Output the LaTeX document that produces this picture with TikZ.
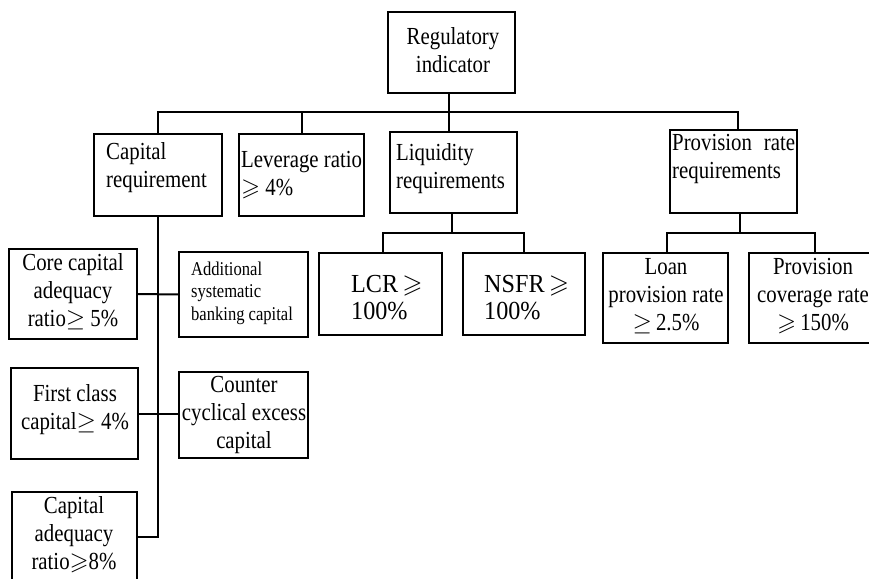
\documentclass[tikz,border=0pt]{standalone}
\usepackage{amssymb}
\usepackage{fontspec}
\setmainfont{Liberation Serif}
\newfontfamily\cond[FakeStretch=0.85]{Liberation Serif}
\newfontfamily\condb[FakeStretch=0.93]{Liberation Serif}
\usetikzlibrary{calc}
\tikzset{
  ln/.style={line width=2pt},
  bx/.style={draw, line width=2.2pt, inner sep=0pt, outer sep=0pt},
  txt/.style={inner sep=0pt, font={\cond\fontsize{24.5}{28}\selectfont}},
  txts/.style={inner sep=0pt, font={\cond\fontsize{19.5}{22.5}\selectfont}},
  txtb/.style={inner sep=0pt, font={\condb\fontsize{26}{27}\selectfont}},
}
\newcommand{\bxat}[5]{\node[bx, minimum width={(#4)-(#2)}, minimum height={(#5)-(#3)}] (#1) at ({((#2)+(#4))/2},{((#3)+(#5))/2}) {};}
\begin{document}
\begin{tikzpicture}[x=1pt,y=-1pt]
\useasboundingbox (0,0) rectangle (869,578);
\fill[white] (0,0) rectangle (869,578);
\clip (0,0) rectangle (869,578);
% boxes
\bxat{root}{388}{12}{515}{93}
\bxat{cap}{94}{134}{222}{216}
\bxat{lev}{239}{134}{364}{216}
\bxat{liq}{390}{132}{517}{213}
\bxat{prov}{670}{130}{797}{213}
\bxat{lcr}{319}{253}{442}{335}
\bxat{nsfr}{463}{253}{585}{335}
\bxat{loan}{603}{253}{728}{343}
\bxat{pcov}{749}{253}{880}{343}
\bxat{core}{9}{249}{137}{339}
\bxat{add}{179}{252}{308}{337}
\bxat{first}{11}{368}{138}{459}
\bxat{counter}{179}{372}{308}{458}
\bxat{capad}{12}{492}{137}{622}
% texts
\node[txt, align=center] (rootT) at (453,50) {Regulatory\\indicator};
\node[txt, align=left, anchor=west] (capT) at (106,168) {Capital\\requirement};
\node[txt, align=left, anchor=west] (levT) at (241,175) {Leverage ratio\\$\geqslant$ 4\%};
\node[txt, align=left, anchor=west] (liqT) at (396,169) {Liquidity\\requirements};
\node[txt, align=left, anchor=west] (provT) at (672,159) {\makebox[123pt][s]{Provision rate}\\requirements};
\node[txtb, align=left, anchor=west] (lcrT) at (351,298) {LCR$\,\geqslant$\\100\%};
\node[txtb, align=left, anchor=west] (nsfrT) at (484,298) {NSFR$\,\geqslant$\\100\%};
\node[txt, align=center] (loanT) at (666,296) {Loan\\provision rate\\$\geq$\,2.5\%};
\node[txt, align=center] (pcovT) at (813,296) {Provision\\coverage rate\\$\geqslant$\,150\%};
\node[txt, align=center] (coreT) at (73,292) {Core capital\\adequacy\\ratio$\geq$ 5\%};
\node[txts, align=left, anchor=west] (addT) at (191,293) {Additional\\systematic\\banking capital};
\node[txt, align=center] (firstT) at (75,410) {First class\\capital$\geq$ 4\%};
\node[txt, align=center] (counterT) at (244,415) {Counter\\cyclical excess\\capital};
\node[txt, align=center] (capadT) at (74,535) {Capital\\adequacy\\ratio$\geqslant$8\%};
% connectors
\coordinate (bus) at (0,112);
\coordinate (lbus) at (0,233);
\draw[ln] (cap.north) |- ([xshift=4.5pt]prov.north |- bus) -- ([xshift=4.5pt]prov.north);
\draw[ln] (lev.north) -- (lev.north |- bus);
\draw[ln] ([xshift=-2.5pt]root.south) -- ([xshift=-4.5pt]liq.north);
\draw[ln] ([xshift=-1.5pt]liq.south) -- ([xshift=-1.5pt]liq.south |- lbus);
\draw[ln] ([xshift=2.5pt]lcr.north) |- (nsfr.north |- lbus) -- (nsfr.north);
\draw[ln] ([xshift=6.5pt]prov.south) -- ([xshift=6.5pt]prov.south |- lbus);
\draw[ln] ([xshift=1.5pt]loan.north) |- (pcov.north |- lbus) -- (pcov.north);
\draw[ln] (cap.south) |- ([yshift=20pt]capad.east);
\draw[ln] (core.east) -- (add.west);
\draw[ln] (first.east) -- (first.east -| counter.west);
\end{tikzpicture}
\end{document}
